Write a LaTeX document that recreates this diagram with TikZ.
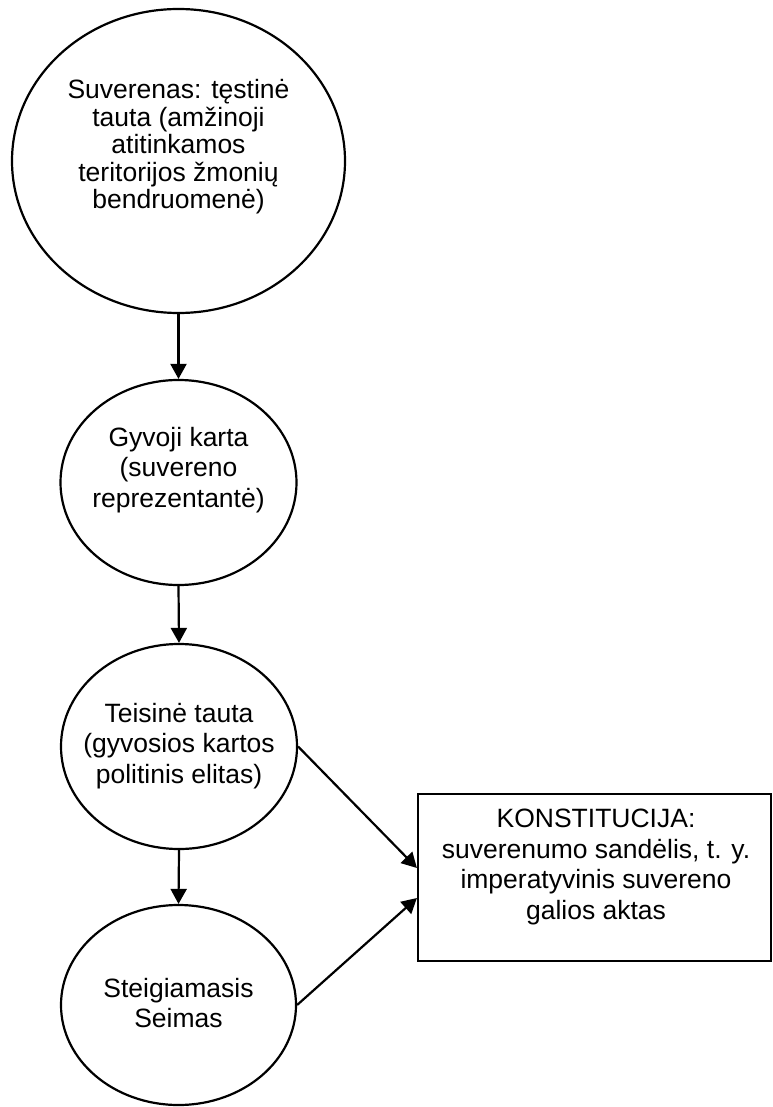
\documentclass[tikz,border=0pt]{standalone}
\usepackage{fontspec}
\setmainfont{Liberation Sans}
\usetikzlibrary{shapes.geometric,arrows.meta,calc}
\begin{document}
\begin{tikzpicture}[x=1pt,y=-1pt,
  oval/.style={draw=black,line width=2.2pt,ellipse,inner sep=0pt},
  txt/.style={align=center,inner sep=0pt,font=\fontsize{26.5}{30.5}\selectfont},
  tighttxt/.style={align=center,inner sep=0pt,font=\fontsize{26.5}{27.5}\selectfont},
  arr/.style={line width=2.2pt,-{Triangle[length=15pt,width=16pt]}}]
\useasboundingbox (0,0) rectangle (772,1107);
\node[oval,minimum width=333pt,minimum height=304pt] (e1) at (178.5,161) {};
\node[tighttxt] (t1) at (178.5,147) {Suverenas: tęstinė\\tauta (amžinoji\\atitinkamos\\teritorijos žmonių\\bendruomenė)};
\node[oval,minimum width=236pt,minimum height=205pt] (e2) at (178.5,482.5) {};
\node[txt] (t2) at (178.5,470) {Gyvoji karta\\(suvereno\\reprezentantė)};
\node[oval,minimum width=236pt,minimum height=205pt] (e3) at (179,746.5) {};
\node[txt] (t3) at (179,746) {Teisinė tauta\\(gyvosios kartos\\politinis elitas)};
\node[oval,minimum width=235pt,minimum height=200pt] (e4) at (178.5,1005) {};
\node[txt] (t4) at (178.5,1003) {Steigiamasis\\Seimas};
\node[draw=black,line width=2.2pt,minimum width=353pt,minimum height=167pt,inner sep=0pt] (box) at (594.5,877.5) {};
\node[txt] (t5) at (596,867) {KONSTITUCIJA:\\suverenumo sandėlis, t. y.\\imperatyvinis suvereno\\galios aktas};
\draw[arr] (e1.south) -- (e2.north);
\draw[arr] (e2.south) -- (e3.north);
\draw[arr] (e3.south) -- (e4.north);
\draw[arr] (e3.east) -- ($(box.west)+(0,-9.5)$);
\draw[arr] (e4.east) -- ($(box.west)+(0,20.5)$);
\end{tikzpicture}
\end{document}
